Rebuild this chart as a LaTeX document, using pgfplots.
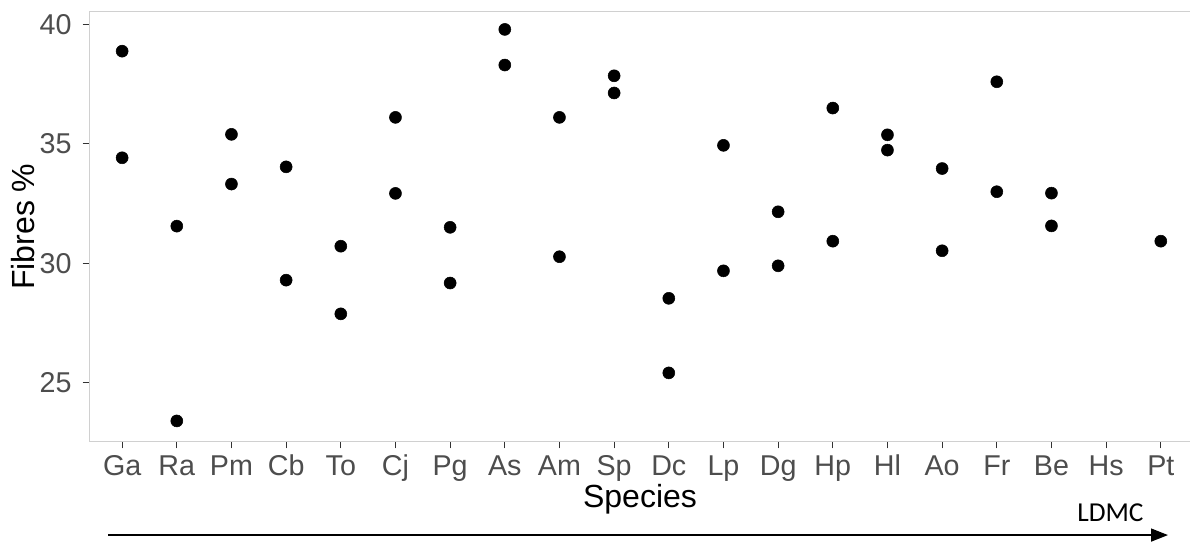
\documentclass[border=0pt]{standalone}
\usepackage{fontspec}
\setmainfont{Liberation Sans}
\newfontfamily\calibri{Carlito}
\usepackage{pgfplots}
\usepackage{pgfplotstable}
\pgfplotsset{compat=1.18}
\usetikzlibrary{arrows.meta}
\definecolor{ticklab}{HTML}{4D4D4D}
\definecolor{tickc}{HTML}{333333}
\definecolor{framec}{HTML}{D0D0D0}

\pgfplotstableread{
x y
1 38.88
1 34.42
2 31.56
2 23.41
3 35.40
3 33.32
4 34.04
4 29.30
5 30.72
5 27.89
6 36.11
6 32.93
7 31.51
7 29.18
8 39.79
8 38.30
9 36.11
9 30.28
10 37.85
10 37.13
11 28.54
11 25.42
12 34.94
12 29.69
13 32.16
13 29.90
14 36.50
14 30.93
15 35.38
15 34.74
16 33.97
16 30.53
17 37.60
17 33.00
18 32.94
18 31.57
20 30.93
}\fibres

\begin{document}
\begin{tikzpicture}
\begin{axis}[
  at={(0,0)}, anchor=south west,
  scale only axis,
  width=832.3pt, height=322.5pt,
  xmin=0.4, xmax=20.7,
  ymin=22.54, ymax=40.53,
  xtick={1,...,20},
  xticklabels={Ga,Ra,Pm,Cb,To,Cj,Pg,As,Am,Sp,Dc,Lp,Dg,Hp,Hl,Ao,Fr,Be,Hs,Pt},
  ytick={25,30,35,40},
  tick align=outside,
  tick pos=left,
  major tick length=5pt,
  tick style={tickc, line width=0.8pt},
  axis line style={framec, line width=0.8pt},
  ticklabel style={font=\fontsize{21.5}{25}\selectfont, text=ticklab},
  /pgf/number format/assume math mode=true,
  xticklabel style={anchor=base, inner sep=0pt, yshift=-20.7pt},
  yticklabel style={anchor=east, inner sep=0pt, xshift=-8.2pt},
  clip=false,
]
\addplot[only marks, mark=*, mark size=4.5pt, black] table[x=x, y=y]{\fibres};
\end{axis}
\node[rotate=90, font=\fontsize{24}{28}\selectfont, black] at (-49.4pt,161.25pt) {Fibres \%};
\node[anchor=base, font=\fontsize{24}{28}\selectfont, black] at (413pt,-49.5pt) {Species};
\node[anchor=base, font=\calibri\fontsize{20.5}{24}\selectfont, black] at (765.8pt,-60pt) {LDMC};
\draw[line width=1.1pt, -{Triangle[length=12.75pt, width=9.75pt]}] (14.25pt,-70pt) -- (809pt,-70pt);
\pgfresetboundingbox
\path[use as bounding box] (-67pt,-75.2pt) rectangle (825.5pt,331.3pt);
\end{tikzpicture}
\end{document}
